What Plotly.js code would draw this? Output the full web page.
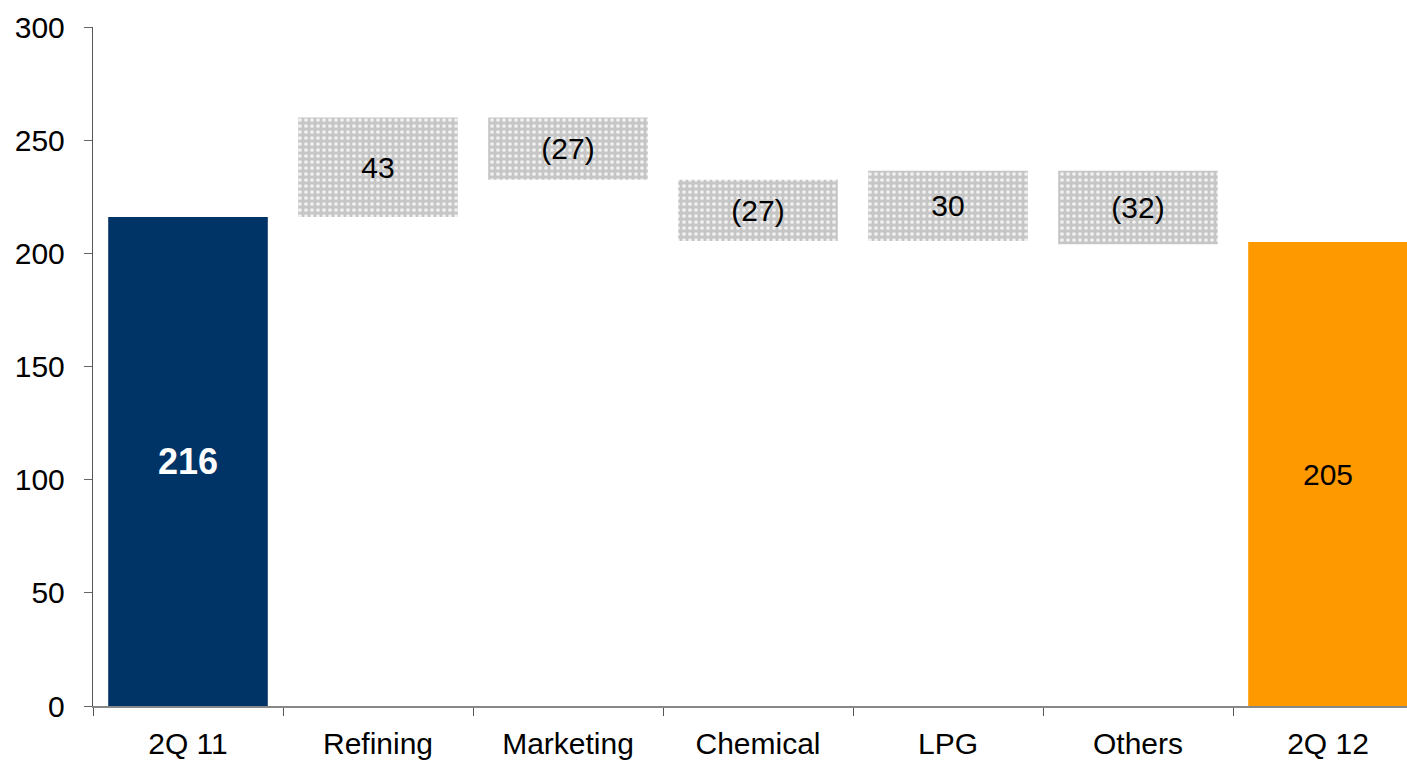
<!DOCTYPE html>
<html>
<head>
<meta charset="utf-8">
<script src="https://cdn.plot.ly/plotly-3.0.1.min.js"></script>
<style>html,body{margin:0;padding:0;background:#fff;}#chart{width:1407px;height:761px;}</style>
</head>
<body>
<div id="chart"></div>
<script>
var categories = ['2Q 11', 'Refining', 'Marketing', 'Chemical', 'LPG', 'Others', '2Q 12'];
var totalCats = ['2Q 11', '2Q 12'];
var totalValues = [216, 205];
var totalLabels = ['<b>216</b>', '205'];
var stepCats = ['Refining', 'Marketing', 'Chemical', 'LPG', 'Others'];
var stepLow = [216, 232.5, 205.5, 205.5, 204];
var stepHigh = [260, 260, 232.5, 236.5, 236.5];
var stepLabels = ['43', '(27)', '(27)', '30', '(32)'];
var yTicks = [0, 50, 100, 150, 200, 250, 300];

var stepSpan = stepHigh.map(function (h, i) { return h - stepLow[i]; });

var FONT = 'Liberation Sans, Arial, sans-serif';

var totals = {
  type: 'bar',
  x: totalCats,
  y: totalValues,
  width: 0.84,
  marker: { color: ['#003366', '#FF9900'], line: { width: 0 } },
  text: totalLabels,
  textposition: 'inside',
  insidetextanchor: 'middle',
  constraintext: 'none',
  textfont: { family: FONT, size: [36, 30], color: ['#ffffff', '#000000'] },
  hoverinfo: 'x+y'
};

var steps = {
  type: 'bar',
  x: stepCats,
  y: stepSpan,
  base: stepLow,
  width: 0.84,
  marker: {
    color: '#c8c8c8',
    line: { width: 0 },
    pattern: { shape: '.', fillmode: 'replace', bgcolor: '#c6c6c6', fgcolor: '#f2f2f2', size: 6, solidity: 0.3 }
  },
  text: stepLabels,
  textposition: 'inside',
  insidetextanchor: 'middle',
  constraintext: 'none',
  textfont: { family: FONT, size: 30, color: '#000000' },
  hoverinfo: 'x+text'
};

var plotW = 1407 - 93;
var catPx = 190;
var xMax = -0.5 + plotW / catPx;

var layout = {
  width: 1407,
  height: 761,
  margin: { l: 93, r: 0, t: 27, b: 55, pad: 0 },
  paper_bgcolor: '#ffffff',
  plot_bgcolor: '#ffffff',
  showlegend: false,
  barmode: 'overlay',
  font: { family: FONT, size: 30, color: '#000000' },
  xaxis: {
    type: 'category',
    categoryorder: 'array',
    categoryarray: categories,
    range: [-0.5, xMax],
    tickson: 'boundaries',
    ticks: 'outside',
    ticklen: 8,
    tickcolor: '#555555',
    showline: true,
    linecolor: '#888888',
    linewidth: 1.5,
    showgrid: false,
    zeroline: false,
    tickfont: { family: FONT, size: 30, color: '#000000' },
    ticklabelstandoff: 10
  },
  yaxis: {
    range: [0, 300],
    tickvals: yTicks,
    ticktext: yTicks.map(String),
    ticks: 'outside',
    ticklen: 8,
    tickcolor: '#666666',
    showline: true,
    linecolor: '#555555',
    linewidth: 1.2,
    showgrid: false,
    zeroline: false,
    tickfont: { family: FONT, size: 30, color: '#000000' },
    ticklabelstandoff: 13
  }
};

Plotly.newPlot('chart', [steps, totals], layout, { displayModeBar: false, staticPlot: true });
</script>
</body>
</html>
